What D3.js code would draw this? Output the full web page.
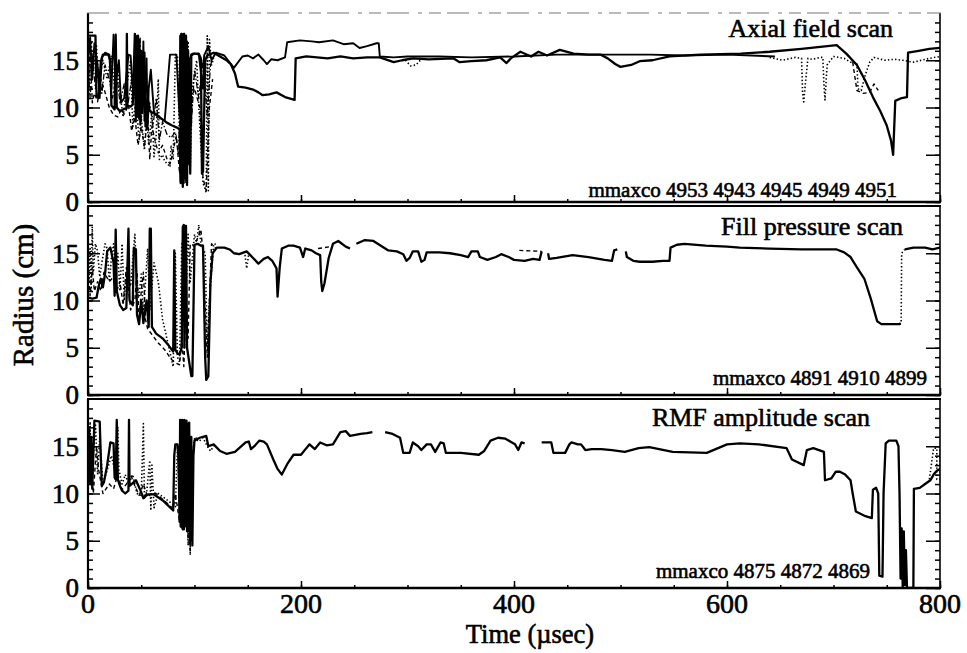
<!DOCTYPE html>
<html>
<head>
<meta charset="utf-8">
<script src="https://cdn.jsdelivr.net/npm/d3@7"></script>
<style>
  html, body { margin: 0; padding: 0; background: #fff; }
  svg { display: block; }
  text { font-family: "Liberation Serif", "Times New Roman", serif; fill: #000; stroke: #000; stroke-width: 0.6px; }
</style>
</head>
<body>
<svg id="chart" width="967" height="653"></svg>
<script>
// ---------------------------------------------------------------
// Data: outer separatrix radius (cm) versus time (µsec), per shot
// (null marks a gap in a trace)
// ---------------------------------------------------------------
const panelTitles = ["Axial field scan", "Fill pressure scan", "RMF amplitude scan"];
const shotLabels = [
  "mmaxco 4953 4943 4945 4949 4951",
  "mmaxco 4891 4910 4899",
  "mmaxco 4875 4872 4869"
];
const xTickValues = [0, 200, 400, 600, 800];
const yTickValues = [0, 5, 10, 15];
const timeDomain = [0, 800];
const radiusDomain = [0, 20];

// Axial field scan
const axial4953 = [[0,17.6],[7,17.6],[8,11.2],[10,11.0],[12,14.8],[14,15.6],[19,15.6],[21,15.0],[22,10.2],[25,9.8],[26,17.7],[27,10.0],[30,9.6],[33,9.8],[36,9.9],[36.5,17.8],[37,10.2],[40,10.1],[42,10.3],[44,17.8],[45,9.0],[47,17.6],[48,8.8],[50,12],[51,9.4],[53,15.8],[54,8.0],[56,11],[58,9.6],[60,9.5],[64,9.3],[68,8.9],[74,8.4],[79,8.1],[83,7.9],[86,7.7],[87,2.0],[88,17.8],[89,1.6],[90,17.8],[91,2.5],[92,17.6],[93,1.8],[94,16],[96,3],[97,15.6],[99,15.7],[104,15.7],[106,15.2],[107,3.0],[108,3.2],[110,15.0],[112,15.5],[118,15.8],[124,15.4],[130,15.0],[134,14.6],[138,13.6],[141,12.2],[148,12.1],[155,11.9],[160,11.6],[164,11.3],[170,11.4],[177,11.6],[185,11.1],[194,10.8],[195,15.2],[205,15.4],[215,15.3],[225,15.2],[237,15.4],[249,15.2],[262,15.3],[274,15.3],[287,14.8],[295,15.0],[305,15.2],[320,15.1],[343,15.2],[349,14.8],[360,14.9],[374,15.0],[387,15.3],[393,14.7],[397,15.2],[406,15.9],[416,15.4],[423,15.9],[431,15.5],[443,16.1],[456,15.7],[470,15.6],[481,15.6],[488,15.2],[495,14.6],[500,14.3],[510,14.5],[518,14.9],[530,15.0],[546,15.4],[575,15.6],[613,15.7],[640,15.9],[670,16.2],[703,16.6],[712,15.7],[722,14.5],[730,12.8],[737,11.1],[744,9.6],[750,8.1],[754,6.5],[756,5.0],[758,10.7],[764,11.0],[769,11.1],[770,15.8],[780,16.0],[790,16.2],[800,16.3]];
const axial4943 = [[0,15],[2,17.4],[4,13],[6,16.8],[9,14.5],[11,11],[13,15.3],[16,15.8],[20,15.6],[22,12],[24,17.7],[26,12.5],[29,15],[31,10.5],[34,11],[38,15.6],[40,15.5],[42,12],[44,15],[45,8.5],[46,17.6],[47,9],[48,17.2],[49,8.2],[50,16],[51,10],[52,17],[53,8.6],[54,13],[55,15.2],[56,7.8],[57,12],[59,14],[62,9.4],[66,9.0],[72,8.6],[77,15.6],[83,15.6],[86,9],[86.5,17.6],[87,2.2],[87.5,17.8],[88,2.5],[88.5,17.5],[89,1.8],[89.5,17.7],[90,2],[90.5,17.8],[91,2.6],[91.5,17.4],[92,3],[93,17],[94,4],[95,15],[97,15.5],[100,15.7],[104,15.6],[108,12],[109,15.5],[113,16.5],[116,15.0],[120,15.8],[128,15.5],[137,14.2],[141,14.8],[145,15.4],[150,15.5],[155,15.2],[160,15.6],[165,15.0],[168,14.6],[172,15.1],[178,15.0],[185,15.3],[187,16.9],[199,17.1],[210,17.0],[217,16.9],[230,17.1],[240,16.7],[249,16.8],[255,16.3],[262,16.5],[271,16.8],[273,16.8],[274,15.4],[287,15.3],[300,15.4],[330,15.4],[360,15.3],[400,15.4],[440,15.6],[470,15.6],[490,15.6],[510,15.6],[528,15.6],[560,15.5],[600,15.6],[645,15.4]];
const axial4945 = [[0,16],[1,12],[3,17],[5,14],[8,16.5],[10,12.5],[14,15],[18,13],[22,15.5],[25,12],[28,14.5],[30,11.5],[33,9],[36,12],[40,15],[42,8],[45,11],[48,6.5],[50,9],[53,5.5],[55,9],[57,6],[60,9.5],[62,4.8],[64,7],[66,13],[67,4.5],[70,5],[72,4.3],[75,4.0],[77,3.7],[78,6],[80,4.5],[82,15.6],[84,15.5],[86,6],[88,3],[90,16],[92,2],[94,17],[96,3.5],[98,12],[102,15],[105,8],[108,2],[111,1.0],[112,17.6],[113,1.2],[114,17.2],[116,14.5],[118,15.2],[120,null],[298,15.0],[303,14.4],[308,14.5],[312,15.0],[313,null],[640,15.3],[652,15.0],[664,15.3],[670,15.2],[671,11.5],[672,10.6],[674,13],[676,15.2],[680,15.1],[688,15.3],[690,15.3],[691,12.5],[692,10.8],[694,14.5],[700,15.4],[710,15.2],[716,14.8],[722,14.7],[723,12.0],[726,11.8],[730,13.5],[734,14.8],[738,15.3],[748,15.0],[757,15.1],[765,15.0],[775,14.8],[790,15.2],[800,15.4]];
const axial4949 = [[0,12],[2,16.2],[4,10.5],[6,11.5],[9,10.6],[12,13],[15,12],[20,10],[24,9.2],[28,9.0],[31,9.8],[34,9.3],[38,10.3],[41,7.5],[44,9],[47,6],[50,8],[53,5.8],[56,9.2],[58,4.5],[60,8],[63,6.5],[66,5.2],[70,6],[74,4.6],[77,4],[80,5.5],[83,7],[86,3],[89,12],[92,2.2],[95,10],[100,12],[105,10],[108,2.5],[111,1.2],[114,10],[117,13],[120,null],[718,14.8],[722,11.8],[728,11.5],[734,11.6],[738,12.5],[742,11.8]];
const axial4951 = [[0,14],[2,11],[4,15.5],[7,12],[10,14],[13,11.5],[16,14.5],[20,13],[23,11],[27,13.5],[30,10.5],[34,12.5],[37,10],[41,13],[44,11],[45,17.5],[46,9],[48,9.5],[49,17.4],[50,8.5],[52,12],[55,7.5],[58,10.5],[61,8],[64,11],[67,6.5],[70,8.5],[74,7.2],[78,6.8],[82,7.4],[85,5],[88,14],[91,4],[94,15],[97,8],[100,14],[104,11],[108,15],[112,9],[115,14.5],[118,15.4]];

// Fill pressure scan
const fill4891 = [[0,10.3],[4,10.2],[8,10.3],[10,11.5],[12,12.3],[14,11.4],[16,12.8],[18,15.2],[21,15.6],[24,14],[25,10.5],[26,17.5],[27,11],[30,9.5],[33,9.0],[36,9.2],[38,17.6],[39,10],[42,9.5],[43,15.6],[45,15.4],[46,8.5],[48,7.5],[50,10],[52,7.6],[55,10],[57,7.2],[58,17.6],[59,17.6],[60,7.2],[64,6.5],[70,6.0],[76,5.2],[80,4.6],[81,15.3],[82,4.8],[84,4.4],[86,4.3],[88,5],[89,17.8],[90,18],[90.5,5],[91,17.9],[92,17.9],[93,5],[95,3.5],[97,2.0],[98,2.0],[100,15.9],[103,16.0],[106,15.8],[108,15.8],[110,4],[111,1.6],[113,2],[115,12],[117,15.0],[121,15.6],[128,15.6],[133,15.4],[137,15.0],[142,14.9],[149,15.2],[155,14.5],[160,13.9],[165,14.4],[169,14.6],[173,14.2],[177,13.4],[178,10.4],[180,13.5],[182,15.5],[188,15.8],[193,15.8],[199,15.6],[202,14.6],[204,15.5],[210,15.3],[214,15.0],[218,14.8],[219,12],[220,11.0],[222,11.8],[226,14.5],[230,16.0],[235,16.3],[242,15.7],[246,15.5],[248,null],[252,16.0],[260,16.4],[268,16.3],[275,15.8],[282,15.3],[290,15.2],[296,14.9],[299,14.2],[302,14.5],[305,15.2],[310,15.2],[313,14.1],[316,14.3],[318,15.1],[330,15.1],[340,15.0],[350,14.8],[357,14.6],[360,15.2],[366,15.2],[368,14.6],[375,14.3],[383,14.6],[388,14.9],[395,14.6],[400,14.3],[410,14.2],[418,14.4],[424,14.3],[426,15.2],[428,null],[432,15.0],[433,14.4],[440,14.5],[455,14.8],[470,14.6],[485,14.3],[492,14.2],[494,15.3],[497,15.4],[499,null],[505,15.2],[506,14.6],[512,14.2],[518,14.1],[530,14.1],[540,14.2],[546,14.2],[547,15.6],[553,15.9],[560,16.0],[580,15.8],[600,15.7],[612,15.6],[640,15.5],[670,15.4],[690,15.4],[703,15.4],[710,15.1],[716,14.6],[722,13.5],[729,12.3],[735,10.2],[741,7.8],[745,7.5],[752,7.5],[762,7.5],[763,7.6],[763.5,null],[767,15.4],[775,15.6],[786,15.6],[793,15.4],[800,15.6]];
const fill4910 = [[0,17],[1,12],[2,15.5],[3,11],[4,17.8],[5,13],[7,16],[9,15.2],[11,12.5],[13,14],[16,16],[18,15.5],[20,12],[22,14.5],[24,16],[26,12.5],[28,15],[30,11],[32,16],[34,10],[36,13],[40,11.5],[44,17],[46,11.8],[48,10.5],[50,12.8],[52,8.5],[54,12],[56,15.5],[58,9],[62,14],[66,12],[70,8],[74,6],[78,4],[80,3],[82,15],[84,4],[86,3.5],[88,16],[91,7],[94,17],[96,12],[100,17],[102,16],[104,18],[106,16],[110,15],[112,5],[114,10],[118,16],[122,15.9],[124,null],[147,15.2],[149,13.4],[151,15.0],[152,null],[762,7.5],[763.5,7.6],[764,15.0],[767,15.4]];
const fill4899 = [[0,13],[2,10.5],[4,13.5],[6,11],[9,12],[12,11],[15,13],[20,12],[24,12.5],[27,11],[30,12],[33,9.5],[36,13.5],[40,9],[44,10],[46,13],[48,8],[50,11],[52,13],[54,8],[56,7],[60,6.4],[66,5.5],[72,4.8],[78,3.8],[82,3.4],[86,3.2],[88,6],[90,3],[92,10],[94,6],[96,16],[100,15.8],[106,17.5],[108,15],[112,4],[116,16],[120,15.5],[122,null],[216,15.5],[228,15.7],[230,null],[405,15.3],[426,15.2]];

// RMF amplitude scan
const rmf4875 = [[0,12],[1,17],[2,11],[3,16],[4,10.5],[6,17.7],[11,17.6],[12,14],[13,10.8],[15,11.2],[18,13],[21,15.4],[24,15.3],[25,11.7],[26,11.5],[27,17.8],[28,11.5],[30,10.8],[32,10.3],[35,10.0],[38,10.3],[38.5,17.8],[39,10.8],[42,11.1],[45,11.4],[49,10.4],[52,9.5],[56,9.9],[62,9.9],[71,9.2],[80,8.2],[81,14],[82,15.2],[84,15.2],[85,14],[86,7],[86.5,17.8],[87,6.5],[87.5,17.7],[88,6.4],[88.5,17.8],[89,6.2],[89.5,17.6],[90,6.2],[90.5,17.8],[91,6.5],[91.5,17.6],[92,6.6],[92.5,17.7],[93,6],[93.5,17.4],[94,6],[95,17.5],[96,5],[97,16],[98,4.5],[99,14],[100,15.6],[105,15.9],[111,16.1],[113,15.0],[118,15.2],[124,14.5],[130,14.2],[138,14.4],[143,14.9],[148,15.4],[151,15.5],[153,14.7],[157,15.1],[161,15.6],[165,15.5],[168,15.2],[174,13.6],[178,12.6],[182,12.0],[187,13.1],[193,14.1],[200,14.1],[205,14.8],[208,15.2],[213,14.7],[218,15.4],[224,15.1],[230,15.2],[237,16.5],[242,16.6],[246,16.1],[256,16.3],[262,16.4],[267,16.5],[269,null],[279,16.5],[286,16.3],[293,15.9],[296,14.3],[302,14.3],[305,15.4],[310,15.0],[313,14.6],[318,15.2],[322,15.2],[326,14.4],[331,15.4],[334,15.3],[336,14.3],[350,14.3],[367,14.1],[372,14.5],[378,15.6],[385,15.9],[392,15.8],[398,15.4],[401,15.2],[404,14.6],[407,15.4],[410,15.3],[412,null],[426,15.4],[435,15.4],[437,14.3],[448,14.3],[452,15.2],[454,15.4],[460,15.2],[463,15.2],[467,14.6],[473,14.7],[482,14.7],[492,14.6],[504,14.4],[517,14.8],[527,14.9],[549,14.4],[581,14.3],[600,15.2],[612,15.3],[630,15.2],[656,14.8],[661,13.6],[672,13.0],[675,14.6],[681,14.8],[691,14.4],[692,11.4],[698,11.6],[702,12.3],[706,12.3],[711,12.0],[716,11.4],[718,10],[721,8.1],[730,7.6],[736,7.4],[737,10.4],[740,10.6],[742,10],[743,1.3],[746,1.2],[747,10],[749,15.3],[752,15.6],[759,15.6],[761,15],[762,10],[763,1.0],[764,6.3],[765,0],[766,6],[767,0.3],[768,4],[769,0],[775,0],[775.5,10.5],[781,10.6],[786,11],[791,11.4],[794,12],[797,12.4],[800,12.6]];
const rmf4872 = [[0,15],[1,11],[2,17.6],[3,12],[5,14],[7,17.4],[9,12],[11,16],[14,11],[18,12.5],[22,14],[26,12],[28,17],[29,12.5],[32,11],[35,12],[38,11],[42,12],[46,10],[50,9.8],[52,17.4],[53,9.5],[55,10],[58,13.5],[59,8.2],[60,13],[62,8.5],[66,10],[72,9.5],[78,9],[82,8.6],[84,15],[86,8],[88,17],[90,7],[92,17.5],[94,4.5],[95,16],[96,3.5],[97,12],[100,15.8],[104,15.5],[108,15.9],[112,15],[115,14.5],[118,15],[120,null],[790,11.5],[794,14.8],[797,14.8],[797,11.5],[800,11.5],[800,14.8]];
const rmf4869 = [[0,10.2],[3,13],[5,10],[8,15],[10,12.5],[14,10],[20,11],[24,10.5],[28,12],[32,10.4],[36,11],[40,12],[44,10.8],[48,9.8],[52,11],[56,9.6],[60,10.1],[64,10],[70,9.4],[76,8.8],[80,8.4],[82,10],[86,7],[88,13],[90,6.5],[92,14],[94,5.5],[96,4],[97,9],[99,15],[102,16]];

// ---------------------------------------------------------------
// Layout
// ---------------------------------------------------------------
const W = 967, H = 653;
const xLeft = 88, xRight = 940;
const panelBands = [[13, 202], [206, 395], [399, 588]];
const titlePos = [[893, 37], [903, 235], [870, 426]];
const labelPos = [[897, 197], [927, 385], [870, 578]];

const lineStyles = [
  { width: 2.3, dash: null },
  { width: 1.9, dash: null },
  { width: 1.6, dash: "1.4,2.2" },
  { width: 1.4, dash: "4,3" },
  { width: 1.3, dash: "6,2,1.5,2" }
];

const panels = [
  { title: panelTitles[0], label: shotLabels[0], series: [axial4953, axial4943, axial4945, axial4949, axial4951] },
  { title: panelTitles[1], label: shotLabels[1], series: [fill4891, fill4910, fill4899] },
  { title: panelTitles[2], label: shotLabels[2], series: [rmf4875, rmf4872, rmf4869] }
];
// Style assignment per panel (solid first)
const panelStyleIdx = [[0, 1, 2, 3, 4], [0, 2, 3], [0, 2, 3]];

const svg = d3.select("#chart");
svg.append("rect").attr("width", W).attr("height", H).attr("fill", "#fff");

const x = d3.scaleLinear().domain(timeDomain).range([xLeft, xRight]);

panels.forEach((p, i) => {
  const [top, bottom] = panelBands[i];
  const y = d3.scaleLinear().domain(radiusDomain).range([bottom, top]);
  const g = svg.append("g");

  const clipId = "clip" + i;
  svg.append("clipPath").attr("id", clipId)
    .append("rect").attr("x", xLeft).attr("y", top - 2)
    .attr("width", xRight - xLeft).attr("height", bottom - top + 2);

  // traces
  const line = d3.line()
    .defined(d => d[1] != null)
    .x(d => x(d[0]))
    .y(d => y(d[1]));
  const traces = g.append("g").attr("clip-path", `url(#${clipId})`);
  // broken-line shots first so the solid traces sit on top
  p.series.map((s, k) => ({ s, st: lineStyles[panelStyleIdx[i][k]] }))
    .reverse()
    .forEach(({ s, st }) => {
      traces.append("path")
        .datum(s)
        .attr("d", line)
        .attr("fill", "none")
        .attr("stroke", "#000")
        .attr("stroke-width", st.width)
        .attr("stroke-linejoin", "round")
        .attr("stroke-dasharray", st.dash);
    });

  // left axis: major/minor ticks pointing inward
  const leftMajor = d3.axisRight(y).tickValues(yTickValues).tickSize(12).tickFormat("");
  const leftMinor = d3.axisRight(y).tickValues(d3.range(0, 20, 1)).tickSize(5).tickFormat("");
  g.append("g").attr("transform", `translate(${xLeft},0)`).call(leftMinor).call(s => s.select(".domain").remove());
  g.append("g").attr("transform", `translate(${xLeft},0)`).call(leftMajor).call(s => s.select(".domain").remove());

  const rightMajor = d3.axisLeft(y).tickValues(yTickValues).tickSize(14).tickFormat("");
  const rightMinor = d3.axisLeft(y).tickValues(d3.range(0, 20, 1)).tickSize(5).tickFormat("");
  g.append("g").attr("transform", `translate(${xRight},0)`).call(rightMinor).call(s => s.select(".domain").remove());
  g.append("g").attr("transform", `translate(${xRight},0)`).call(rightMajor).call(s => s.select(".domain").remove());

  // bottom ticks (inward)
  const botMajor = d3.axisTop(x).tickValues(xTickValues).tickSize(7).tickFormat("");
  const botMinor = d3.axisTop(x).tickValues(d3.range(0, 801, 50)).tickSize(3).tickFormat("");
  g.append("g").attr("transform", `translate(0,${bottom})`).call(botMinor).call(s => s.select(".domain").remove());
  g.append("g").attr("transform", `translate(0,${bottom})`).call(botMajor).call(s => s.select(".domain").remove());

  g.selectAll(".tick line").attr("stroke", "#000").attr("stroke-width", 1.5);

  // frame
  g.append("line").attr("x1", xLeft).attr("x2", xLeft).attr("y1", top).attr("y2", bottom)
    .attr("stroke", "#000").attr("stroke-width", 2.2);
  g.append("line").attr("x1", xRight).attr("x2", xRight).attr("y1", top).attr("y2", bottom)
    .attr("stroke", "#000").attr("stroke-width", 1.6);
  g.append("line").attr("x1", xLeft - 1).attr("x2", xRight + 1).attr("y1", bottom).attr("y2", bottom)
    .attr("stroke", "#000").attr("stroke-width", 2.4);
  const topLine = g.append("line").attr("x1", xLeft - 1).attr("x2", xRight + 1).attr("y1", top).attr("y2", top)
    .attr("stroke", "#000");
  if (i === 0) {
    topLine.attr("stroke", "#777").attr("stroke-width", 1.1).attr("stroke-dasharray", "22,9,4,7,12,6");
  } else {
    topLine.attr("stroke-width", 2.2);
  }

  // y tick labels
  g.selectAll(".ylab").data(yTickValues).enter().append("text")
    .attr("x", 79).attr("y", d => y(d))
    .attr("dy", "0.35em")
    .attr("text-anchor", "end")
    .attr("font-size", 27)
    .text(d => d);

  // panel title and shot list
  g.append("text").attr("x", titlePos[i][0]).attr("y", titlePos[i][1])
    .attr("text-anchor", "end").attr("font-size", 26).text(p.title);
  g.append("text").attr("x", labelPos[i][0]).attr("y", labelPos[i][1])
    .attr("text-anchor", "end").attr("font-size", 21).text(p.label);
});

// x tick labels under the bottom panel
svg.selectAll(".xlab").data(xTickValues).enter().append("text")
  .attr("x", d => x(d)).attr("y", 613)
  .attr("text-anchor", "middle")
  .attr("font-size", 28)
  .text(d => d);

// axis titles
svg.append("text").attr("x", 530).attr("y", 643)
  .attr("text-anchor", "middle").attr("font-size", 26.5)
  .text("Time (µsec)");
svg.append("text")
  .attr("transform", "translate(33,295) rotate(-90)")
  .attr("text-anchor", "middle").attr("font-size", 29)
  .text("Radius (cm)");
</script>
</body>
</html>
